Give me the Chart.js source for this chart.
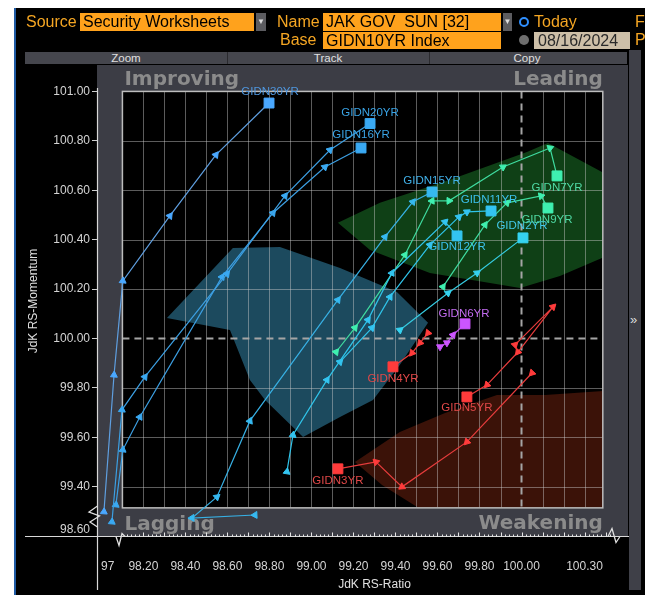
<!DOCTYPE html>
<html><head><meta charset="utf-8">
<script src="https://cdn.jsdelivr.net/npm/chart.js@4"></script>
<style>
html,body{margin:0;padding:0;background:#fff;width:645px;height:595px;overflow:hidden;position:relative;}
#panel{position:absolute;left:14px;top:8px;width:629px;height:587px;background:#000;border-left:2px solid #1f5aa3;}
#cv{position:absolute;left:0;top:0;z-index:1;}
.h{position:absolute;z-index:2;font-family:'Liberation Sans',Arial,sans-serif;font-size:16px;line-height:18px;white-space:pre;}
.lab{color:#f5a623;}
.box{background:#ffa21c;color:#000;padding-left:3px;box-sizing:border-box;height:18px;}
.dd{background:#5c5c60;color:#ddd;font-size:8px;text-align:center;height:18px;line-height:18px;}
#tool{position:absolute;z-index:2;left:25px;top:52px;width:602px;height:12px;background:#45464d;font-family:'Liberation Sans',Arial,sans-serif;font-size:11.5px;line-height:12px;color:#e0e0e0;}
#tool div{position:absolute;top:0;height:12px;text-align:center;border-right:1px solid #2a2a2e;}
#rcol{position:absolute;z-index:2;left:629px;top:50px;width:12px;height:540px;background:#3f4048;color:#ddd;font-family:'Liberation Sans',Arial;font-size:13px;}
</style></head>
<body>
<div id="panel"></div>
<div class="h lab" style="left:26px;top:13px;">Source</div>
<div class="h box" style="left:80px;top:13px;width:174px;">Security Worksheets</div>
<div class="h dd" style="left:256px;top:13px;width:10px;">▼</div>
<div class="h lab" style="left:277px;top:13px;">Name</div>
<div class="h box" style="left:323px;top:13px;width:178px;">JAK GOV  SUN [32]</div>
<div class="h dd" style="left:503px;top:13px;width:9px;">▼</div>
<div class="h" style="left:519px;top:17px;width:6px;height:6px;border:2px solid #2f8fff;border-radius:50%;background:#000;"></div>
<div class="h lab" style="left:534px;top:13px;">Today</div>
<div class="h lab" style="left:635px;top:13px;">F</div>
<div class="h lab" style="left:280px;top:31px;">Base</div>
<div class="h box" style="left:323px;top:32px;width:178px;height:17px;line-height:17px;">GIDN10YR Index</div>
<div class="h" style="left:519px;top:35px;width:10px;height:10px;border-radius:50%;background:#6e6e6e;"></div>
<div class="h" style="left:534px;top:32px;width:96px;height:17px;line-height:17px;background:#cdbfa8;color:#2a2a2a;padding-left:4px;box-sizing:border-box;">08/16/2024</div>
<div class="h lab" style="left:635px;top:31px;">P</div>
<div id="tool">
  <div style="left:0;width:202px;">Zoom</div>
  <div style="left:202px;width:202px;">Track</div>
  <div style="left:404px;width:196px;border-right:none;">Copy</div>
</div>
<div id="rcol"><div style="position:absolute;top:262px;left:1px;">»</div></div>
<canvas id="cv" width="645" height="595"></canvas>
<script>
// ---------- tick labels (axes are broken at the low end) ----------
const X_TICK_VALUES = [98.03, 98.2, 98.4, 98.6, 98.8, 99.0, 99.2, 99.4, 99.6, 99.8, 100.0, 100.3];
const X_TICK_LABELS = ['97','98.20','98.40','98.60','98.80','99.00','99.20','99.40','99.60','99.80','100.00','100.30'];
const Y_TICK_VALUES = [99.225, 99.4, 99.6, 99.8, 100.0, 100.2, 100.4, 100.6, 100.8, 101.0];
const Y_TICK_LABELS = ['98.60','99.40','99.60','99.80','100.00','100.20','100.40','100.60','100.80','101.00'];
const X_TITLE = 'JdK RS-Ratio', Y_TITLE = 'JdK RS-Momentum';

// ---------- series (RS-Ratio, RS-Momentum), oldest -> latest ----------
const SERIES = ['GIDN30YR','GIDN20YR','GIDN16YR','GIDN15YR','GIDN12YR','GIDN11YR','GIDN2YR','GIDN7YR','GIDN9YR','GIDN6YR','GIDN4YR','GIDN5YR','GIDN3YR'];
const GIDN30YR_RATIO = [98.012, 98.060, 98.102, 98.326, 98.545, 98.798];
const GIDN30YR_MOM   = [99.298, 99.852, 100.233, 100.496, 100.743, 100.953];
const GIDN20YR_RATIO = [98.050, 98.098, 98.207, 98.598, 98.874, 99.088, 99.279];
const GIDN20YR_MOM   = [99.257, 99.711, 99.844, 100.261, 100.577, 100.763, 100.870];
const GIDN16YR_RATIO = [98.069, 98.102, 98.183, 98.574, 98.817, 99.064, 99.236];
const GIDN16YR_MOM   = [99.326, 99.549, 99.682, 100.249, 100.508, 100.694, 100.771];
const GIDN15YR_RATIO = [98.731, 98.431, 98.550, 98.707, 99.126, 99.350, 99.483, 99.574];
const GIDN15YR_MOM   = [99.285, 99.273, 99.358, 99.666, 100.156, 100.411, 100.553, 100.593];
const GIDN12YR_RATIO = [98.883, 98.912, 99.074, 99.269, 99.383, 99.636, 99.693];
const GIDN12YR_MOM   = [99.460, 99.609, 99.832, 100.075, 100.265, 100.472, 100.415];
const GIDN11YR_RATIO = [99.136, 99.288, 99.374, 99.564, 99.702, 99.740, 99.855];
const GIDN11YR_MOM   = [99.905, 100.043, 100.168, 100.379, 100.492, 100.512, 100.516];
const GIDN2YR_RATIO  = [99.421, 99.650, 99.788, 100.007];
const GIDN2YR_MOM    = [100.034, 100.184, 100.265, 100.407];
const GIDN7YR_RATIO  = [99.117, 99.207, 99.445, 99.574, 99.655, 99.912, 100.136, 100.169];
const GIDN7YR_MOM    = [99.945, 100.043, 100.338, 100.557, 100.557, 100.694, 100.771, 100.658];
const GIDN9YR_RATIO  = [99.626, 99.826, 99.931, 100.093, 100.126];
const GIDN9YR_MOM    = [100.209, 100.460, 100.549, 100.577, 100.528];
const GIDN6YR_RATIO  = [99.612, 99.645, 99.674, 99.731];
const GIDN6YR_MOM    = [99.966, 99.982, 100.014, 100.059];
const GIDN4YR_RATIO  = [99.555, 99.517, 99.479, 99.388];
const GIDN4YR_MOM    = [100.022, 99.982, 99.941, 99.885];
const GIDN5YR_RATIO  = [99.969, 100.150, 99.983, 99.836, 99.740];
const GIDN5YR_MOM    = [99.974, 100.128, 99.945, 99.812, 99.763];
const GIDN3YR_RATIO  = [100.050, 99.740, 99.431, 99.307, 99.126];
const GIDN3YR_MOM    = [99.860, 99.581, 99.399, 99.500, 99.472];

const SERIES_DATA = {
  GIDN30YR:[GIDN30YR_RATIO,GIDN30YR_MOM], GIDN20YR:[GIDN20YR_RATIO,GIDN20YR_MOM], GIDN16YR:[GIDN16YR_RATIO,GIDN16YR_MOM],
  GIDN15YR:[GIDN15YR_RATIO,GIDN15YR_MOM], GIDN12YR:[GIDN12YR_RATIO,GIDN12YR_MOM], GIDN11YR:[GIDN11YR_RATIO,GIDN11YR_MOM],
  GIDN2YR:[GIDN2YR_RATIO,GIDN2YR_MOM], GIDN7YR:[GIDN7YR_RATIO,GIDN7YR_MOM], GIDN9YR:[GIDN9YR_RATIO,GIDN9YR_MOM],
  GIDN6YR:[GIDN6YR_RATIO,GIDN6YR_MOM], GIDN4YR:[GIDN4YR_RATIO,GIDN4YR_MOM], GIDN5YR:[GIDN5YR_RATIO,GIDN5YR_MOM],
  GIDN3YR:[GIDN3YR_RATIO,GIDN3YR_MOM]
};

// ---------- styles (colours, label offsets in px) ----------
const STYLE = {
  GIDN30YR:{line:'#5f9fe0', mark:'#4aa8ff', text:'#4f97df', off:[1,-11]},
  GIDN20YR:{line:'#3c9fe2', mark:'#3aa9f2', text:'#3aa4e6', off:[0,-11]},
  GIDN16YR:{line:'#3c9fe2', mark:'#3aa9f2', text:'#3aa4e6', off:[0,-13]},
  GIDN15YR:{line:'#37b0e4', mark:'#36b9f0', text:'#40b0e8', off:[0,-11]},
  GIDN12YR:{line:'#2fc4ea', mark:'#33c4f0', text:'#3cc0ec', off:[0,11]},
  GIDN11YR:{line:'#2fc4ea', mark:'#33c4f0', text:'#3cc0ec', off:[-2,-11]},
  GIDN2YR: {line:'#35cbe0', mark:'#35d3f0', text:'#43c8e8', off:[-1,-12]},
  GIDN7YR: {line:'#3fdca0', mark:'#3ff0b0', text:'#4fd9a4', off:[0,12]},
  GIDN9YR: {line:'#3fdca0', mark:'#3ff0b0', text:'#4fd9a4', off:[-1,12]},
  GIDN6YR: {line:'#c050ee', mark:'#cc55ff', text:'#c46cf2', off:[-1,-10]},
  GIDN4YR: {line:'#e63c3c', mark:'#ff3b3b', text:'#e04848', off:[0,12]},
  GIDN5YR: {line:'#e63c3c', mark:'#ff3b3b', text:'#e04848', off:[0,11]},
  GIDN3YR: {line:'#e63c3c', mark:'#ff3b3b', text:'#e04848', off:[0,12]}
};

// ---------- plot frame & background (value units) ----------
const X_RANGE = [97.979, 100.507], Y_RANGE = [99.196, 101.107];
const PLOT = {xMin:98.1, xMax:100.387, yMin:99.314, yMax:101.0};
const CENTER = {x:100, y:100}, GRID_STEP = {x:0.1, y:0.2};
const SHAPES = [
  {color:'#1c4a5e', pts:[[98.312,100.083],[98.626,100.366],[98.850,100.370],[99.136,100.285],[99.407,100.188],[99.555,100.063],[99.421,99.893],[99.293,99.751],[99.136,99.682],[98.960,99.601],[98.779,99.751],[98.707,99.832],[98.612,100.034]]},
  {color:'#0f4016', pts:[[99.126,100.468],[99.326,100.549],[99.660,100.642],[100.026,100.755],[100.126,100.791],[100.383,100.674],[100.469,100.500],[100.383,100.326],[100.183,100.253],[99.993,100.204],[99.564,100.265],[99.279,100.358]]},
  {color:'#3b1208', pts:[[99.207,99.500],[99.421,99.621],[99.636,99.698],[99.883,99.771],[100.112,99.771],[100.421,99.789],[100.421,99.285],[99.564,99.285],[99.336,99.407]]}
];

function arrowRotation(ctx){
  const d = ctx.dataset.data, i = ctx.dataIndex;
  if (i === d.length-1) return 0;
  const sx = ctx.chart.scales.x, sy = ctx.chart.scales.y;
  const a = d[i===0?0:i-1], b = d[i===0?1:i];
  const dx = sx.getPixelForValue(b.x)-sx.getPixelForValue(a.x);
  const dy = sy.getPixelForValue(b.y)-sy.getPixelForValue(a.y);
  return Math.atan2(dx,-dy)*180/Math.PI;
}

const datasets = SERIES.map(name=>{
  const [rx,my] = SERIES_DATA[name], st = STYLE[name];
  return {
    label:name, showLine:true, data: rx.map((v,i)=>({x:v, y:my[i]})),
    borderColor:st.line, borderWidth:1.2, tension:0,
    pointBackgroundColor:st.mark, pointBorderColor:st.mark, pointBorderWidth:1,
    pointStyle: c => c.dataIndex===c.dataset.data.length-1 ? 'rect' : 'triangle',
    pointRadius: c => c.dataIndex===c.dataset.data.length-1 ? 7 : 4,
    rotation: arrowRotation
  };
});

const decor = {
  id:'decor',
  beforeDraw(chart){
    const {ctx, chartArea:a, scales:{x,y}} = chart;
    ctx.save();
    ctx.fillStyle = '#3c3d45';
    ctx.fillRect(a.left, a.top, a.right-a.left, a.bottom-a.top);
    const L = x.getPixelForValue(PLOT.xMin), R = x.getPixelForValue(PLOT.xMax);
    const T = y.getPixelForValue(PLOT.yMax), B = y.getPixelForValue(PLOT.yMin);
    ctx.fillStyle = '#000'; ctx.fillRect(L,T,R-L,B-T);
    ctx.save(); ctx.beginPath(); ctx.rect(L,T,R-L,B-T); ctx.clip();
    SHAPES.forEach(s=>{
      ctx.beginPath();
      s.pts.forEach(([vx,vy],i)=>{const px=x.getPixelForValue(vx),py=y.getPixelForValue(vy); i?ctx.lineTo(px,py):ctx.moveTo(px,py);});
      ctx.closePath(); ctx.fillStyle=s.color; ctx.fill();
    });
    ctx.strokeStyle='rgba(205,205,205,0.45)'; ctx.lineWidth=1;
    for(let k=-30;k<=10;k++){ if(!k) continue;
      const px=Math.round(x.getPixelForValue(CENTER.x+k*GRID_STEP.x))+0.5;
      if(px<=L+1||px>=R-1) continue;
      ctx.beginPath(); ctx.moveTo(px,T); ctx.lineTo(px,B); ctx.stroke(); }
    for(let k=-5;k<=6;k++){ if(!k) continue;
      const py=Math.round(y.getPixelForValue(CENTER.y+k*GRID_STEP.y))+0.5;
      if(py<=T+1||py>=B-1) continue;
      ctx.beginPath(); ctx.moveTo(L,py); ctx.lineTo(R,py); ctx.stroke(); }
    ctx.setLineDash([7,5]); ctx.strokeStyle='#a5a5a5'; ctx.lineWidth=2;
    const cx=x.getPixelForValue(CENTER.x), cy=y.getPixelForValue(CENTER.y);
    ctx.beginPath(); ctx.moveTo(cx,T); ctx.lineTo(cx,B); ctx.stroke();
    ctx.beginPath(); ctx.moveTo(L,cy); ctx.lineTo(R,cy); ctx.stroke();
    ctx.restore();
    ctx.strokeStyle='#bdbdbd'; ctx.lineWidth=1.5; ctx.strokeRect(L,T,R-L,B-T);
    ctx.font='bold 20px "DejaVu Sans"'; ctx.fillStyle='#8b8b8b'; ctx.textBaseline='alphabetic';
    ctx.textAlign='left';  ctx.fillText('Improving', L+2, T-6); ctx.fillText('Lagging', L+2, B+22);
    ctx.textAlign='right'; ctx.fillText('Leading', R, T-6);   ctx.fillText('Weakening', R, B+21);
    // axis lines, ruler & breaks
    ctx.strokeStyle='#d8d8d8'; ctx.lineWidth=1.2;
    ctx.beginPath(); ctx.moveTo(a.left+0.5, 88); ctx.lineTo(a.left+0.5, 590); ctx.stroke();
    ctx.beginPath(); ctx.moveTo(25, a.bottom-0.5); ctx.lineTo(640, a.bottom-0.5); ctx.stroke();
    ctx.lineWidth=1; ctx.strokeStyle='#e8e8e8';
    for(let v=98.12; v<PLOT.xMax+0.04; v+=0.02){
      const px=Math.round(x.getPixelForValue(v))+0.5;
      const major = Math.abs((v*10)-Math.round(v*10))<0.02;
      ctx.beginPath(); ctx.moveTo(px,a.bottom-0.5); ctx.lineTo(px,a.bottom-(major?4.5:2.5)); ctx.stroke();
    }
    ctx.lineWidth=1.3; ctx.strokeStyle='#e0e0e0';
    const b=a.bottom-0.5;
    ctx.beginPath(); ctx.moveTo(116,b); ctx.lineTo(119,b+9); ctx.lineTo(122,b-3); ctx.lineTo(125,b); ctx.stroke();
    ctx.beginPath(); ctx.moveTo(608,b); ctx.lineTo(612,b-8); ctx.lineTo(616,b+6); ctx.lineTo(620,b); ctx.stroke();
    const xl=a.left+0.5;
    ctx.beginPath(); ctx.moveTo(xl,506); ctx.lineTo(89,512); ctx.lineTo(xl+2,516); ctx.lineTo(90,522); ctx.lineTo(xl,527); ctx.stroke();
    // x-axis title (sits right of the axis centre in the original)
    ctx.font='12px "Liberation Sans"'; ctx.fillStyle='#e0e0e0'; ctx.textAlign='center'; ctx.textBaseline='middle';
    ctx.fillText(X_TITLE, x.getPixelForValue(99.3), 585);
    ctx.restore();
  },
  afterDatasetsDraw(chart){
    const ctx=chart.ctx; ctx.save();
    ctx.font='11.5px "Liberation Sans"'; ctx.textAlign='center'; ctx.textBaseline='middle';
    chart.data.datasets.forEach((ds,i)=>{
      const meta=chart.getDatasetMeta(i), el=meta.data[meta.data.length-1], st=STYLE[ds.label];
      ctx.fillStyle=st.text; ctx.fillText(ds.label, el.x+st.off[0], el.y+st.off[1]);
    });
    ctx.restore();
  }
};

const tickFont = {family:'Liberation Sans', size:12};
new Chart(document.getElementById('cv'), {
  type:'scatter',
  data:{datasets},
  options:{
    responsive:false, animation:false, events:[],
    layout:{padding:{left:0,right:17,top:65,bottom:0}},
    plugins:{legend:{display:false}, tooltip:{enabled:false}},
    scales:{
      x:{type:'linear', position:'bottom', min:X_RANGE[0], max:X_RANGE[1],
        afterBuildTicks:s=>{s.ticks=X_TICK_VALUES.map(v=>({value:v}));},
        afterFit:s=>{s.height=58;},
        ticks:{autoSkip:false, maxRotation:0, padding:22, color:'#d4d4d4', font:tickFont, callback:(v,i)=>X_TICK_LABELS[i]},
        grid:{display:false, drawTicks:false}, border:{display:false},
        title:{display:false}},
      y:{type:'linear', position:'left', min:Y_RANGE[0], max:Y_RANGE[1],
        afterBuildTicks:s=>{s.ticks=Y_TICK_VALUES.map(v=>({value:v}));},
        afterFit:s=>{s.width=97;},
        ticks:{autoSkip:false, padding:2, color:'#d4d4d4', font:tickFont, callback:(v,i)=>Y_TICK_LABELS[i]},
        grid:{drawOnChartArea:false, drawTicks:true, tickLength:5, color:c=>c.index===0?'rgba(0,0,0,0)':'#cfcfcf'},
        border:{display:false},
        title:{display:true, text:Y_TITLE, color:'#e0e0e0', font:tickFont, padding:{top:26,bottom:0}}}
    }
  },
  plugins:[decor]
});
</script>
</body></html>
